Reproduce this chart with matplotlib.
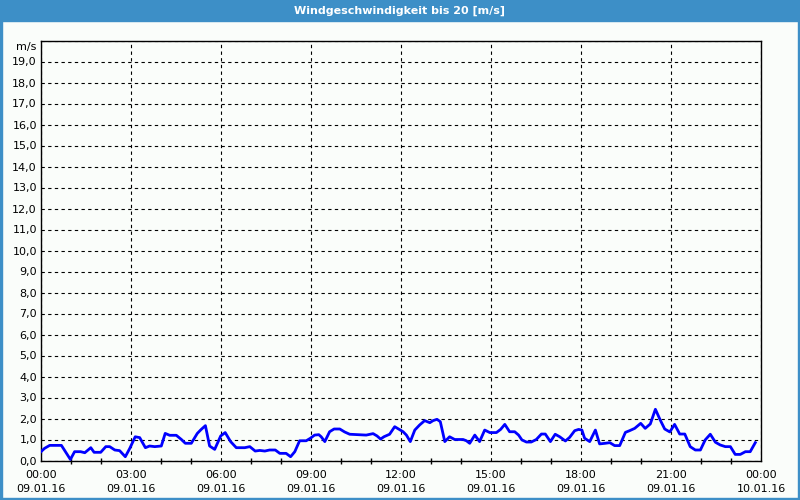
import matplotlib.pyplot as plt
import matplotlib.transforms as mtransforms
from matplotlib.patches import Rectangle

# ---- data (hours since 09.01.16 00:00, wind speed m/s)
hours = [0.0, 0.12, 0.29, 0.68, 0.98, 1.12, 1.32, 1.46, 1.66, 1.77, 1.99, 2.16,
         2.29, 2.46, 2.62, 2.81, 2.96, 3.14, 3.29, 3.48, 3.62, 3.79, 4.01, 4.14,
         4.29, 4.51, 4.68, 4.81, 5.01, 5.21, 5.34, 5.48, 5.62, 5.79, 5.99, 6.14,
         6.32, 6.51, 6.79, 6.96, 7.14, 7.29, 7.46, 7.62, 7.81, 7.96, 8.17, 8.32,
         8.46, 8.62, 8.84, 8.98, 9.12, 9.26, 9.34, 9.46, 9.62, 9.77, 9.96, 10.12,
         10.29, 10.57, 10.84, 11.07, 11.20, 11.32, 11.43, 11.62, 11.79, 11.92,
         12.07, 12.18, 12.31, 12.46, 12.62, 12.79, 12.96, 13.07, 13.20, 13.31,
         13.46, 13.62, 13.79, 14.07, 14.18, 14.29, 14.46, 14.62, 14.79, 14.96,
         15.18, 15.32, 15.46, 15.62, 15.79, 15.92, 16.03, 16.18, 16.34, 16.51,
         16.68, 16.81, 16.98, 17.14, 17.29, 17.48, 17.62, 17.79, 17.92, 18.03,
         18.12, 18.29, 18.48, 18.62, 18.81, 18.96, 19.12, 19.29, 19.48, 19.62,
         19.79, 19.99, 20.14, 20.31, 20.48, 20.64, 20.79, 20.96, 21.12, 21.29,
         21.46, 21.64, 21.81, 21.98, 22.14, 22.31, 22.48, 22.64, 22.81, 22.98,
         23.14, 23.31, 23.48, 23.64, 23.81]
speed = [0.42, 0.58, 0.72, 0.72, 0.05, 0.42, 0.42, 0.37, 0.61, 0.39, 0.39, 0.66,
         0.66, 0.50, 0.47, 0.18, 0.58, 1.13, 1.09, 0.61, 0.69, 0.66, 0.69, 1.29,
         1.20, 1.20, 1.00, 0.82, 0.82, 1.29, 1.48, 1.66, 0.69, 0.53, 1.17, 1.33,
         0.90, 0.61, 0.61, 0.66, 0.45, 0.48, 0.45, 0.50, 0.50, 0.34, 0.34, 0.18,
         0.42, 0.94, 0.94, 1.06, 1.21, 1.23, 1.13, 0.90, 1.37, 1.50, 1.50, 1.36,
         1.25, 1.23, 1.21, 1.28, 1.17, 1.02, 1.13, 1.25, 1.61, 1.50,
         1.37, 1.21, 0.90, 1.45, 1.69, 1.90, 1.80, 1.90, 1.96, 1.85,
         0.90, 1.13, 1.00, 1.00, 0.94, 0.82, 1.21, 0.90, 1.45, 1.33,
         1.33, 1.48, 1.72, 1.37, 1.37, 1.21, 0.98, 0.88, 0.88, 1.00,
         1.26, 1.26, 0.90, 1.25, 1.13, 0.93, 1.10, 1.42, 1.48, 1.45,
         1.06, 0.90, 1.45, 0.79, 0.82, 0.85, 0.71, 0.71, 1.34, 1.42,
         1.53, 1.77, 1.53, 1.74, 2.44, 1.93, 1.50, 1.36, 1.72, 1.26,
         1.26, 0.66, 0.50, 0.50, 0.98, 1.25, 0.87, 0.74, 0.66, 0.66,
         0.29, 0.29, 0.42, 0.42, 0.85]

x_ticks = [0, 3, 6, 9, 12, 15, 18, 21, 24]
x_labels = ['00:00\n09.01.16', '03:00\n09.01.16', '06:00\n09.01.16',
            '09:00\n09.01.16', '12:00\n09.01.16', '15:00\n09.01.16',
            '18:00\n09.01.16', '21:00\n09.01.16', '00:00\n10.01.16']
y_ticks = list(range(0, 21))
y_labels = ['%d,0' % v for v in range(0, 20)] + ['m/s']

title = 'Windgeschwindigkeit bis 20 [m/s]'
bar_blue = '#3d8fc7'

fig = plt.figure(figsize=(8, 5), dpi=100, facecolor='#fafdfa')

# title bar and frame
fig.patches.append(Rectangle((0, 1 - 21 / 500), 1, 21 / 500, transform=fig.transFigure,
                             color=bar_blue, zorder=0))
fig.patches.append(Rectangle((0, 0), 2 / 800, 1, transform=fig.transFigure, color=bar_blue))
fig.patches.append(Rectangle((1 - 2 / 800, 0), 2 / 800, 1, transform=fig.transFigure, color=bar_blue))
fig.patches.append(Rectangle((0, 0), 1, 2 / 500, transform=fig.transFigure, color=bar_blue))
fig.text(0.5, 1 - 10.5 / 500, title, color='white', fontsize=8, fontweight='bold',
         ha='center', va='center')

ax = fig.add_axes([41 / 800, 1 - 460.5 / 500, 720 / 800, 420 / 500])
ax.set_facecolor('#fafdfa')
ax.plot(hours, speed, color='#0000ff', lw=2, zorder=3)

ax.set_xlim(0, 24)
ax.set_ylim(0, 20)
ax.set_xticks(x_ticks)
ax.set_xticklabels(x_labels, fontsize=8, linespacing=1.5)
ax.set_xticks(range(0, 25), minor=True)
ax.set_yticks(y_ticks)
ax.set_yticklabels(y_labels, fontsize=8)
ax.tick_params(axis='y', length=0, pad=3)
ax.tick_params(axis='x', which='major', length=0, pad=7)
ax.tick_params(axis='x', which='minor', direction='inout', length=4, width=1)

# unit label sits a little below the top edge
unit = ax.get_yticklabels()[-1]
unit.set_transform(unit.get_transform() + mtransforms.ScaledTranslation(0, -4 / 72, fig.dpi_scale_trans))

ax.grid(True, which='major', color='black', linestyle=(0, (3, 3)), lw=0.8)
for s in ax.spines.values():
    s.set_color('black')
    s.set_linewidth(1)

fig.savefig('out.png', dpi=100, facecolor=fig.get_facecolor())
